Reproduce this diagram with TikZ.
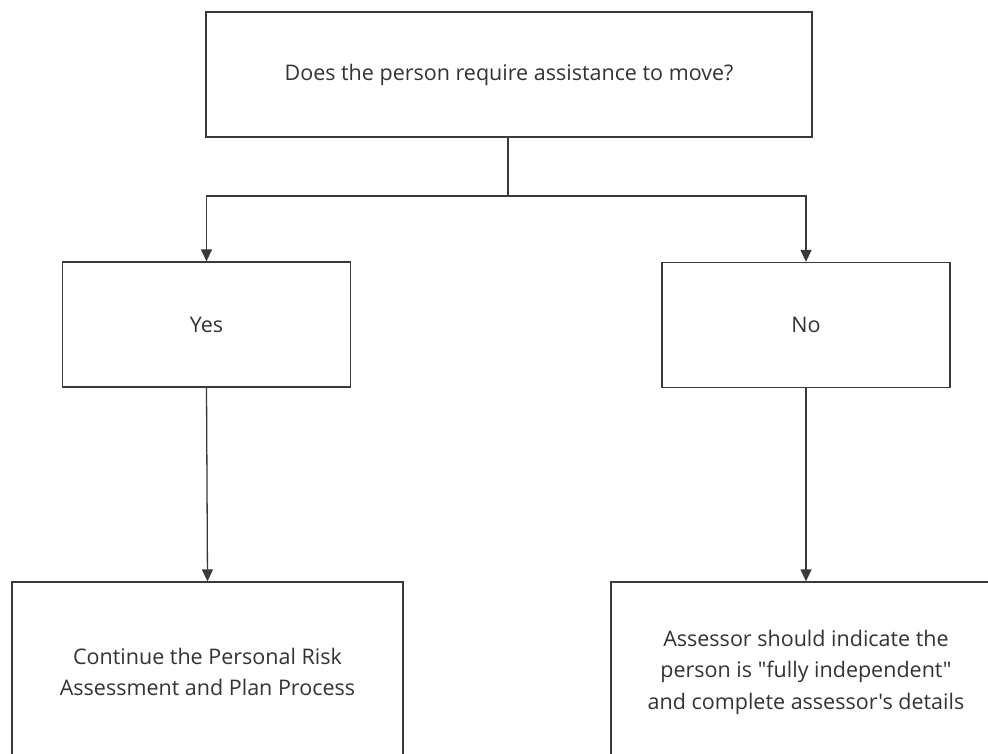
\documentclass[tikz,border=0pt]{standalone}
\usepackage{fontspec}
\newfontfamily\bodyfont{Open Sans}
\usetikzlibrary{arrows.meta,calc}
\definecolor{linec}{HTML}{3A3A3A}
\definecolor{textc}{HTML}{333333}
\begin{document}
\begin{tikzpicture}[x=1pt,y=-1pt,
  box/.style={draw=linec,line width=1.3pt,fill=white,rectangle,inner sep=0pt,align=center,text=textc,font=\bodyfont\fontsize{21.5}{31.5}\selectfont},
  conn/.style={draw=linec,line width=1.3pt},
  arr/.style={conn,-{Triangle[width=11pt,length=12pt]}}]
\useasboundingbox (0,0) rectangle (988,754);
\clip (0,0) rectangle (988,754);
\fill[white] (0,0) rectangle (988,754);
\node[box,minimum width=606pt,minimum height=125pt] (top) at (509,74.5) {Does the person require assistance to move?};
\node[box,minimum width=288pt,minimum height=125pt] (yes) at (206.5,324.5) {Yes};
\node[box,minimum width=288pt,minimum height=125pt] (no) at (806,325) {No};
\node[box,minimum width=391pt,minimum height=180pt] (cont) at (207.5,672) {Continue the Personal Risk\\Assessment and Plan Process};
\node[box,minimum width=390pt,minimum height=180pt] (assess) at (806,672) {Assessor should indicate the\\person is "fully independent"\\and complete assessor's details};
\coordinate (split) at (508,196);
\draw[conn] (top.south -| split) -- (split);
\draw[arr] (split) -| (yes.north);
\draw[arr] (split) -| (no.north);
\draw[arr] (yes.south) -- (cont.north);
\draw[arr] (no.south) -- (assess.north);
\end{tikzpicture}
\end{document}
